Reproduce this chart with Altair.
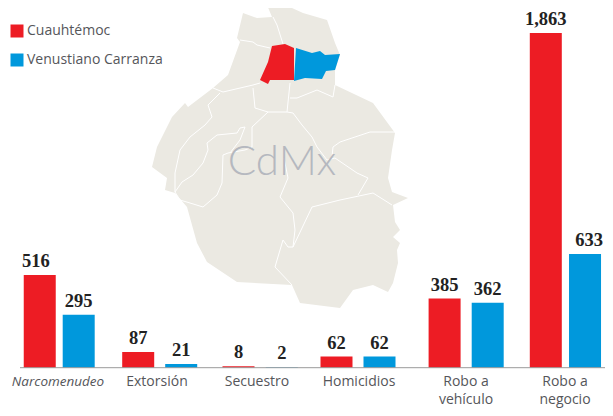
import altair as alt
import pandas as pd

# --- values ---
series = ["Cuauhtémoc", "Venustiano Carranza"]
colors = ["#ed1c24", "#0098dc"]
categories = ["Narcomenudeo", "Extorsión", "Secuestro", "Homicidios", "Robo a\nvehículo", "Robo a\nnegocio"]
cuauhtemoc = [516, 87, 8, 62, 385, 1863]
venustiano = [295, 21, 2, 62, 362, 633]
max_value = 1863

# --- layout of the uneven groups (scale ranges, chart coordinates) ---
bar_centers = [27.8, 70.7, 130.2, 173.2, 230.5, 273.8, 328.5, 371.5, 436.6, 479.7, 537.8, 581]
label_centers = [50, 149, 249, 351, 458, 557]
y_range = [359.7, 25]

# --- map outlines in its pixel coordinates ---
land = [[275,0],[290,0],[292,8],[303,13],[327,20],[335,43],[340,55],[335,70],[335,85],[373,103],[395,133],
        [392,150],[388,178],[392,192],[408,198],[393,205],[395,222],[400,230],[393,237],[400,243],[397,250],
        [398,263],[393,283],[388,292],[373,285],[353,290],[340,308],[300,303],[292,285],[237,282],[207,262],
        [197,243],[187,207],[175,193],[165,190],[167,178],[152,167],[157,147],[172,117],[185,103],[188,107],
        [213,88],[228,75],[240,42],[237,38],[243,13],[257,18],[272,17],[267,5],[275,0]]
red = [[272,46],[285,44],[294,48],[294,80],[270,80],[268,84],[260,80],[268,62],[272,46]]
blue = [[296,48],[312,53],[320,51],[325,55],[340,54],[335,70],[326,71],[322,79],[305,78],[294,81],[296,48]]
borders = [
    [[273,17],[277,25],[283,44]],
    [[240,40],[253,42],[257,45],[270,48]],
    [[260,83],[253,85],[223,92],[213,88]],
    [[220,93],[208,105],[212,117],[205,125],[190,137],[180,150],[175,173],[175,192]],
    [[253,88],[255,108],[268,112],[287,112],[290,83]],
    [[290,98],[297,98],[317,90],[333,97],[335,85]],
    [[287,112],[293,113],[302,125],[312,137],[317,147],[327,160],[335,158],[357,173],[368,178],[358,195]],
    [[312,207],[340,200],[373,193],[392,205]],
    [[312,207],[293,247],[288,247],[283,240],[280,250],[275,267],[292,285]],
    [[395,132],[370,132],[340,142],[333,147],[332,157]],
    [[284,158],[288,178],[280,197],[293,213],[295,230],[293,247]],
    [[268,112],[252,127],[252,147],[245,150],[228,153],[223,155],[222,183],[217,195],[203,207],[190,203],[180,200],[175,192]],
    [[245,127],[240,128],[237,133],[217,135],[207,143],[208,150],[203,163],[193,175],[182,182],[175,192]],
    [[245,127],[240,140],[230,153]],
]

def feature(kind, coords):
    return {"type": "Feature", "properties": {},
            "geometry": {"type": kind, "coordinates": coords}}

proj = alt.Projection(type="identity", scale=1, translate=[-8, -8])

def polygon_layer(points, fill):
    return (alt.Chart(alt.Data(values=[feature("Polygon", [points])]))
            .mark_geoshape(fill=fill, stroke=None)
            .project(**proj.to_dict()))

land_layer = polygon_layer(land, "#ebe9e2")
border_layer = (alt.Chart(alt.Data(values=[feature("LineString", b) for b in borders]))
                .mark_geoshape(filled=False, stroke="#ffffff", strokeWidth=1)
                .project(**proj.to_dict()))
red_layer = polygon_layer(red, colors[0])
blue_layer = polygon_layer(blue, colors[1])

rows = []
for i, cat in enumerate(categories):
    rows.append({"cat": cat, "series": series[0], "value": cuauhtemoc[i], "idx": 2 * i})
    rows.append({"cat": cat, "series": series[1], "value": venustiano[i], "idx": 2 * i + 1})
bars_df = pd.DataFrame(rows)
bars_df["label"] = bars_df["value"].map(lambda v: f"{v:,}")

x_bars = alt.X("idx:Q", axis=None,
               scale=alt.Scale(domain=list(range(12)), range=bar_centers, nice=False, zero=False))
y_vals = alt.Y("value:Q", axis=None,
               scale=alt.Scale(domain=[0, max_value], range=y_range, nice=False))

bars = alt.Chart(bars_df).mark_bar(size=32, orient="vertical").encode(
    x=x_bars, y=y_vals,
    color=alt.Color("series:N", scale=alt.Scale(domain=series, range=colors),
                    legend=alt.Legend(title=None, orient="none", legendX=2, legendY=16,
                                      symbolType="square", symbolSize=169, symbolStrokeWidth=0,
                                      symbolOpacity=1, labelFont="Open Sans", labelFontSize=14,
                                      labelColor="#55565a", labelOffset=3, rowPadding=15,
                                      labelLimit=300)),
)

baseline = alt.Chart(pd.DataFrame({"zero": [0]})).mark_rule(color="#9a9a9a", strokeWidth=1).encode(
    x=alt.value(12), x2=alt.value(597),
    y=alt.Y("zero:Q", axis=None, scale=alt.Scale(domain=[0, max_value], range=y_range, nice=False)),
)

value_labels = alt.Chart(bars_df).mark_text(
    font="Liberation Serif", fontWeight="bold", fontSize=18.5, color="#222222",
    baseline="alphabetic", dy=-8,
).encode(x=x_bars, y=y_vals, text="label:N")

cat_df = pd.DataFrame({"cat": categories, "pos": range(len(categories))})
x_cats = alt.X("pos:Q", axis=None,
               scale=alt.Scale(domain=list(range(6)), range=label_centers, nice=False, zero=False))

def cat_layer(test, style, size):
    return alt.Chart(cat_df).transform_filter(test).mark_text(
        font="Open Sans", fontSize=size, color="#55565a", baseline="alphabetic",
        lineBreak="\n", lineHeight=17.5, fontStyle=style,
    ).encode(x=x_cats, y=alt.value(378), text="cat:N")

cat_italic = cat_layer("datum.pos === 0", "italic", 13.5)
cat_normal = cat_layer("datum.pos !== 0", "normal", 14)

map_label = alt.Chart(pd.DataFrame({"t": ["CdMx"]})).mark_text(
    font="Lato", fontWeight=300, fontSize=42, color="#b5b8bf", baseline="alphabetic",
).encode(x=alt.value(274), y=alt.value(167), text="t:N")

chart = (alt.layer(land_layer, border_layer, red_layer, blue_layer, map_label,
                   bars, baseline, value_labels, cat_italic, cat_normal)
         .resolve_scale(x="independent")
         .properties(width=597, height=400, padding=0,
                     autosize=alt.AutoSizeParams(type="none"), background="#ffffff")
         .configure_view(stroke=None))

chart.save("out.html", embed_options={"renderer": "svg", "actions": False})
